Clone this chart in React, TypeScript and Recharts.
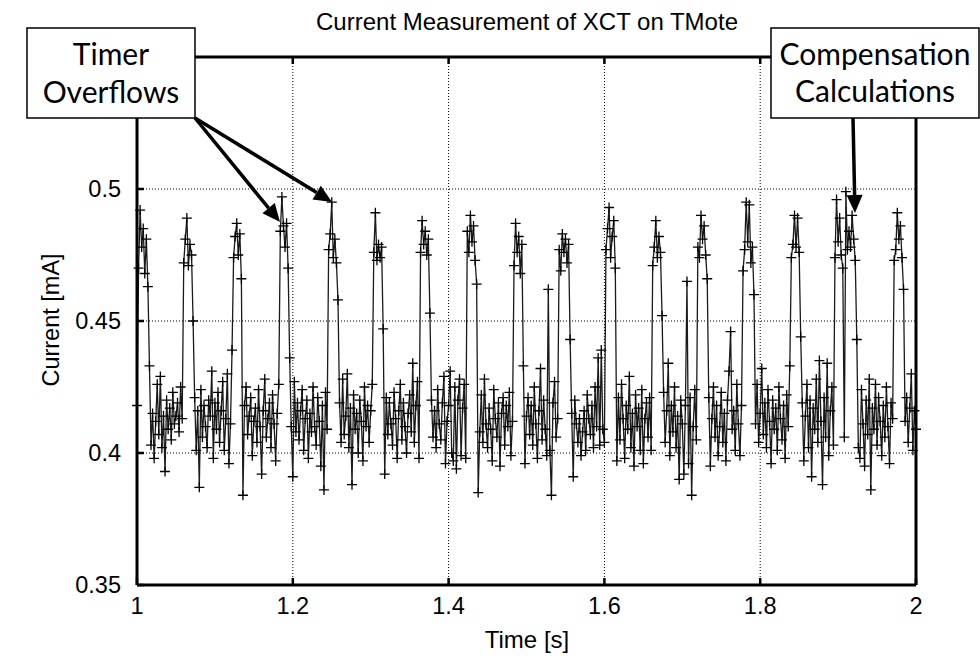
import { CartesianGrid, Line, LineChart, XAxis, YAxis } from "recharts";

// sampled every 2 ms starting at t = 1 s
const sampleStart = 1.0;
const samplePeriod = 0.002;

// current readings in mA in 0.1 s chunks
const seg1 = [
  0.418, 0.47, 0.492, 0.478, 0.485, 0.468, 0.481, 0.463, 0.433, 0.403,
  0.415, 0.398, 0.412, 0.426, 0.407, 0.429, 0.402, 0.414, 0.393, 0.42,
  0.409, 0.417, 0.405, 0.423, 0.411, 0.414, 0.419, 0.408, 0.425, 0.413,
  0.472, 0.481, 0.489, 0.471, 0.479, 0.475, 0.45, 0.421, 0.401, 0.416,
  0.387, 0.424, 0.406, 0.418, 0.41, 0.402, 0.42, 0.414, 0.431, 0.398,
];
const seg2 = [
  0.419, 0.409, 0.423, 0.404, 0.416, 0.427, 0.401, 0.413, 0.43, 0.396,
  0.411, 0.439, 0.474, 0.482, 0.487, 0.475, 0.483, 0.466, 0.384, 0.418,
  0.425, 0.407, 0.414, 0.421, 0.399, 0.412, 0.417, 0.404, 0.424, 0.41,
  0.392, 0.416, 0.428, 0.406, 0.413, 0.419, 0.402, 0.422, 0.411, 0.397,
  0.415, 0.426, 0.484, 0.497, 0.486, 0.478, 0.487, 0.47, 0.436, 0.41,
];
const seg3 = [
  0.391, 0.427, 0.408, 0.419, 0.405, 0.416, 0.424, 0.401, 0.413, 0.42,
  0.398, 0.415, 0.408, 0.425, 0.41, 0.403, 0.421, 0.412, 0.395, 0.418,
  0.386, 0.423, 0.409, 0.477, 0.483, 0.495, 0.474, 0.481, 0.472, 0.458,
  0.419, 0.404, 0.428, 0.407, 0.414, 0.43, 0.402, 0.417, 0.388, 0.422,
  0.409, 0.415, 0.4, 0.42, 0.412, 0.397, 0.425, 0.41, 0.418, 0.404,
];
const seg4 = [
  0.416, 0.426, 0.476, 0.491, 0.473, 0.479, 0.474, 0.478, 0.447, 0.392,
  0.421, 0.407, 0.419, 0.411, 0.403, 0.423, 0.413, 0.398, 0.416, 0.426,
  0.405, 0.419, 0.41, 0.4, 0.415, 0.422, 0.408, 0.434, 0.404, 0.418,
  0.427, 0.398, 0.476, 0.488, 0.479, 0.484, 0.475, 0.481, 0.453, 0.42,
  0.406, 0.416, 0.402, 0.424, 0.411, 0.405, 0.419, 0.429, 0.396, 0.412,
];
const seg5 = [
  0.418, 0.431, 0.4, 0.397, 0.425, 0.394, 0.42, 0.428, 0.399, 0.417,
  0.426, 0.398, 0.484, 0.476, 0.49, 0.48, 0.486, 0.473, 0.464, 0.385,
  0.408, 0.422, 0.404, 0.428, 0.411, 0.402, 0.417, 0.409, 0.397, 0.424,
  0.413, 0.406, 0.419, 0.395, 0.415, 0.421, 0.403, 0.418, 0.41, 0.423,
  0.399, 0.412, 0.471, 0.487, 0.476, 0.482, 0.468, 0.479, 0.433, 0.396,
];
const seg6 = [
  0.414, 0.421, 0.407, 0.418, 0.403, 0.425, 0.411, 0.398, 0.416, 0.432,
  0.405, 0.42, 0.409, 0.399, 0.462, 0.401, 0.384, 0.419, 0.427, 0.406,
  0.413, 0.477, 0.469, 0.483, 0.476, 0.481, 0.472, 0.479, 0.443, 0.415,
  0.391, 0.42, 0.411, 0.404, 0.413, 0.399, 0.408, 0.416, 0.401, 0.422,
  0.413, 0.407, 0.418, 0.402, 0.425, 0.41, 0.436, 0.403, 0.439, 0.409,
];
const seg7 = [
  0.404, 0.477, 0.485, 0.493, 0.474, 0.482, 0.488, 0.47, 0.397, 0.421,
  0.405, 0.426, 0.413, 0.398, 0.418, 0.409, 0.429, 0.402, 0.415, 0.395,
  0.422, 0.41, 0.417, 0.401, 0.424, 0.396, 0.413, 0.419, 0.406, 0.421,
  0.401, 0.471, 0.478, 0.488, 0.474, 0.482, 0.476, 0.452, 0.423, 0.404,
  0.416, 0.434, 0.399, 0.418, 0.408, 0.425, 0.402, 0.414, 0.39, 0.42,
];
const seg8 = [
  0.411, 0.392, 0.418, 0.465, 0.396, 0.421, 0.384, 0.41, 0.424, 0.405,
  0.478, 0.474, 0.49, 0.481, 0.486, 0.475, 0.466, 0.421, 0.395, 0.413,
  0.425, 0.406, 0.418, 0.399, 0.41, 0.423, 0.404, 0.415, 0.397, 0.42,
  0.431, 0.446, 0.409, 0.416, 0.401, 0.426, 0.411, 0.399, 0.418, 0.469,
  0.477, 0.495, 0.48, 0.494, 0.472, 0.478, 0.46, 0.411, 0.426, 0.404,
];
const seg9 = [
  0.415, 0.432, 0.407, 0.419, 0.402, 0.424, 0.412, 0.396, 0.42, 0.409,
  0.417, 0.401, 0.425, 0.413, 0.405, 0.418, 0.398, 0.422, 0.41, 0.433,
  0.474, 0.479, 0.49, 0.478, 0.489, 0.476, 0.444, 0.419, 0.397, 0.414,
  0.426, 0.402, 0.42, 0.391, 0.417, 0.409, 0.428, 0.404, 0.435, 0.412,
  0.388, 0.421, 0.406, 0.434, 0.399, 0.416, 0.425, 0.403, 0.474, 0.496,
];
const seg10 = [
  0.48, 0.489, 0.475, 0.47, 0.406, 0.499, 0.477, 0.484, 0.478, 0.49,
  0.481, 0.473, 0.443, 0.402, 0.398, 0.424, 0.411, 0.395, 0.42, 0.407,
  0.428, 0.386, 0.417, 0.409, 0.426, 0.403, 0.421, 0.412, 0.399, 0.418,
  0.406, 0.425, 0.41, 0.396, 0.419, 0.413, 0.473, 0.477, 0.491, 0.481,
  0.486, 0.474, 0.462, 0.412, 0.421, 0.404, 0.417, 0.43, 0.401, 0.416,
  0.409,
];

const currentMA = [
  ...seg1, ...seg2, ...seg3, ...seg4, ...seg5,
  ...seg6, ...seg7, ...seg8, ...seg9, ...seg10,
];

const xTicks = [1, 1.2, 1.4, 1.6, 1.8, 2];
const yTicks = [0.35, 0.4, 0.45, 0.5];

const data = currentMA.map((v, i) => ({
  t: Math.round((sampleStart + i * samplePeriod) * 1000) / 1000,
  current: v,
}));

const axisFont = "'Liberation Sans', Arial, Helvetica, sans-serif";
const boxFont = "Lato, 'Open Sans', sans-serif";

const renderPlus = (props: any) => {
  const { cx, cy, index } = props;
  if (cx == null || cy == null) return <g key={`p${index}`} />;
  return (
    <path
      key={`p${index}`}
      d={`M${cx - 5},${cy}H${cx + 5}M${cx},${cy - 5}V${cy + 5}`}
      stroke="#000"
      strokeWidth={1.3}
      fill="none"
    />
  );
};

const noLabel = () => <text />;

function Arrow({ x1, y1, x2, y2 }: { x1: number; y1: number; x2: number; y2: number }) {
  const dx = x2 - x1;
  const dy = y2 - y1;
  const len = Math.sqrt(dx * dx + dy * dy);
  const ux = dx / len;
  const uy = dy / len;
  const hl = 18;
  const hw = 8;
  const bx = x2 - ux * hl;
  const by = y2 - uy * hl;
  const pts = `${x2},${y2} ${bx - uy * hw},${by + ux * hw} ${bx + uy * hw},${by - ux * hw}`;
  return (
    <g>
      <line x1={x1} y1={y1} x2={bx} y2={by} stroke="#000" strokeWidth={3.5} />
      <polygon points={pts} fill="#000" />
    </g>
  );
}

export default function App() {
  const axisLine = { stroke: "#000", strokeWidth: 3 };
  const tickLine = { stroke: "#000", strokeWidth: 2.5 };
  const tickStyle = { fill: "#000", fontSize: 23.5, fontFamily: axisFont };

  return (
    <div style={{ position: "absolute", left: 0, top: 0, width: 980, height: 660, background: "#fff" }}>
      <LineChart
        width={980}
        height={660}
        data={data}
        margin={{ top: 56, right: 63, bottom: 35, left: 77 }}
      >
        <CartesianGrid stroke="#000" strokeDasharray="1 2" strokeWidth={1} />
        <XAxis
          dataKey="t"
          type="number"
          domain={[1, 2]}
          ticks={xTicks}
          height={40}
          tickSize={-7}
          tickMargin={19}
          axisLine={axisLine}
          tickLine={tickLine}
          tick={tickStyle}
        />
        <XAxis
          xAxisId="top"
          orientation="top"
          dataKey="t"
          type="number"
          domain={[1, 2]}
          ticks={xTicks}
          height={1}
          tickSize={-7}
          axisLine={axisLine}
          tickLine={tickLine}
          tick={noLabel}
        />
        <YAxis
          type="number"
          domain={[0.35, 0.55]}
          ticks={yTicks}
          width={60}
          tickSize={-7}
          tickMargin={23}
          axisLine={axisLine}
          tickLine={tickLine}
          tick={tickStyle}
        />
        <YAxis
          yAxisId="right"
          orientation="right"
          type="number"
          domain={[0.35, 0.55]}
          ticks={yTicks}
          width={1}
          tickSize={-7}
          axisLine={axisLine}
          tickLine={tickLine}
          tick={noLabel}
        />
        <Line
          type="linear"
          dataKey="current"
          stroke="#1a1a1a"
          strokeWidth={1.3}
          dot={renderPlus}
          activeDot={false}
          isAnimationActive={false}
        />
      </LineChart>

      <svg
        width={980}
        height={660}
        style={{ position: "absolute", left: 0, top: 0, pointerEvents: "none" }}
      >
        <text x={527} y={30} textAnchor="middle" fontSize={24} fontFamily={axisFont} fill="#000">
          Current Measurement of XCT on TMote
        </text>
        <text
          transform="translate(59,320) rotate(-90)"
          textAnchor="middle"
          fontSize={23.5}
          fontFamily={axisFont}
          fill="#000"
        >
          Current [mA]
        </text>
        <text x={527} y={648} textAnchor="middle" fontSize={24} fontFamily={axisFont} fill="#000">
          Time [s]
        </text>

        <rect x={27} y={28} width={168} height={90} fill="#fff" stroke="#000" strokeWidth={1.5} />
        <text x={111} y={65} textAnchor="middle" fontSize={30} fontFamily={boxFont} fill="#000">
          Timer
        </text>
        <text x={111} y={103} textAnchor="middle" fontSize={30} fontFamily={boxFont} fill="#000">
          Overflows
        </text>

        <rect x={771} y={28} width={208} height={90} fill="#fff" stroke="#000" strokeWidth={1.5} />
        <text x={875} y={65} textAnchor="middle" fontSize={30} fontFamily={boxFont} fill="#000">
          Compensation
        </text>
        <text x={875} y={102} textAnchor="middle" fontSize={30} fontFamily={boxFont} fill="#000">
          Calculations
        </text>

        <Arrow x1={195} y1={118} x2={280} y2={222} />
        <Arrow x1={195} y1={118} x2={332} y2={202} />
        <Arrow x1={853} y1={118} x2={855} y2={213} />
      </svg>
    </div>
  );
}
